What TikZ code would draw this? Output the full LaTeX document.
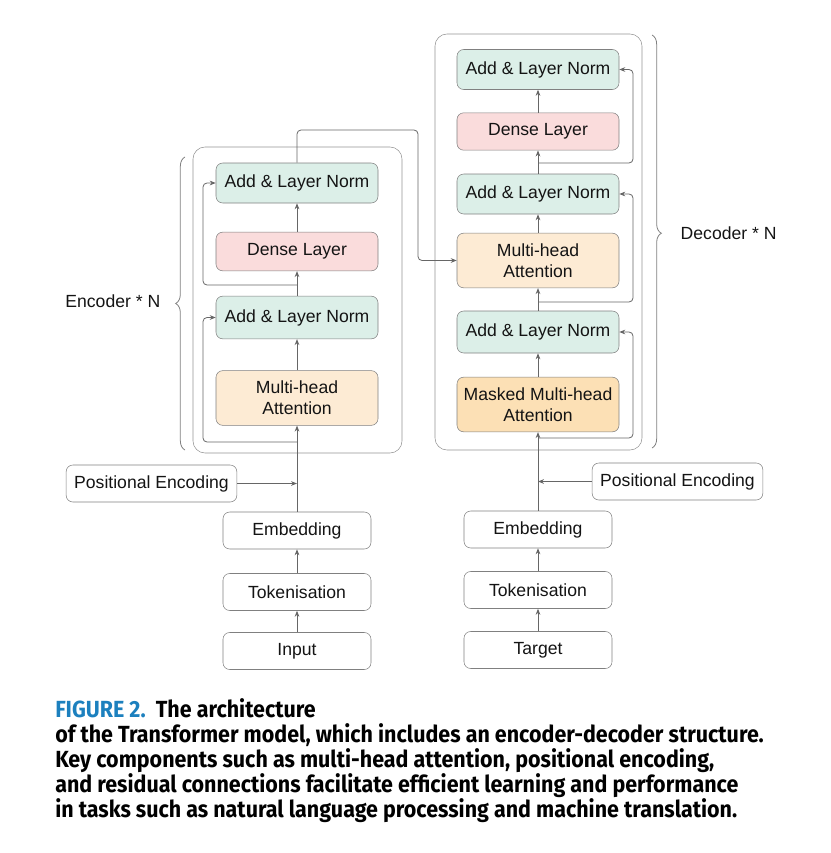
\documentclass[tikz,border=0pt]{standalone}
\usepackage{fontspec}
\setmainfont{Liberation Sans}
\newfontfamily\capfont[FakeStretch=0.92]{Fira Sans}
\usetikzlibrary{arrows.meta, calc}
\usetikzlibrary{positioning, shapes, decorations.pathreplacing}
\definecolor{normfill}{HTML}{DCEFE8}
\definecolor{densefill}{HTML}{FADCDC}
\definecolor{mhafill}{HTML}{FDEBD4}
\definecolor{maskfill}{HTML}{FCE0B5}
\definecolor{boxline}{HTML}{808080}
\definecolor{connline}{HTML}{666666}
\definecolor{figblue}{HTML}{1C80BE}
\newlength\Boxwd
\setlength\Boxwd{121.5pt}
\newlength\Inwd
\setlength\Inwd{111pt}

\begin{document}
\begin{tikzpicture}[x=0.75pt, y=-0.75pt, auto,
every node/.style={font=\fontsize{13.2}{15.8}\selectfont, text=black!92},
layer/.style={
  rectangle, draw=boxline, rounded corners=5pt,
  minimum width=\Boxwd, minimum height=30pt,
  align=center, inner sep=0pt
},
norm/.style={layer, fill=normfill},
dense/.style={layer, fill=densefill, minimum height=29pt},
mha/.style={layer, fill=mhafill, minimum height=41pt},
masked/.style={layer, fill=maskfill, minimum height=41pt},
inbox/.style={layer, fill=white, minimum width=\Inwd, minimum height=27.75pt},
stack/.style={draw=boxline!85, rounded corners=9pt},
conn/.style={draw=connline, line width=0.6pt, rounded corners=3pt,
  -{Stealth[length=4.5pt, width=3.5pt]}},
brc/.style={draw=boxline, line width=0.6pt,
  decorate, decoration={brace, amplitude=7pt}}
]
\useasboundingbox (0,0) rectangle (831,853);

\draw[stack] (193,147) rectangle (402,453);
\draw[stack] (435,34) rectangle (642,450);

\node[norm] (encnormb) at (297,183) {Add \& Layer Norm};
\node[dense] (encdense) at (297,251.5) {Dense Layer};
\node[norm, minimum height=32pt] (encnorma) at (297,317.5) {Add \& Layer Norm};
\node[mha] (encmha) at (297,398) {Multi-head\\Attention};

\node[norm] (decnormc) at (538,69.5) {Add \& Layer Norm};
\node[dense, minimum height=28pt] (decdense) at (538,131.5) {Dense Layer};
\node[norm] (decnormb) at (538,194) {Add \& Layer Norm};
\node[mha] (decmha) at (538,260.5) {Multi-head\\Attention};
\node[norm, minimum height=31.5pt] (decnorma) at (538,332) {Add \& Layer Norm};
\node[masked] (decmask) at (538,404.5) {Masked Multi-head\\Attention};

\node[inbox, minimum width=128pt] (encpos) at (151.5,483.5) {Positional Encoding};
\node[inbox] (encemb) at (297,530.5) {Embedding};
\node[inbox] (enctok) at (297,592) {Tokenisation};
\node[inbox] (encinput) at (297,651) {Input};

\node[inbox, minimum width=128pt] (decpos) at (677.5,481.5) {Positional Encoding};
\node[inbox] (decemb) at (538,529.5) {Embedding};
\node[inbox] (dectok) at (538,590) {Tokenisation};
\node[inbox] (dectarget) at (538,650) {Target};

\coordinate (encjoin) at (297,483.5);
\coordinate (encres1) at (297,442);
\coordinate (encres2) at (297,285);
\coordinate (encout) at (418,130);
\coordinate (decjoin) at (538,481.5);
\coordinate (decres1) at (538,438);
\coordinate (decres2) at (538,302);
\coordinate (decres3) at (538,163);

\draw[conn] (encinput) -- (enctok);
\draw[conn] (enctok) -- (encemb);
\draw[conn] (encemb) -- (encmha);
\draw[conn] (encpos) -- (encjoin);
\draw[conn] (encmha) -- (encnorma);
\draw[conn] (encnorma) -- (encdense);
\draw[conn] (encdense) -- (encnormb);
\draw[conn] (encres1) -- ++(-94,0) |- (encnorma.west);
\draw[conn] (encres2) -- ++(-94,0) |- (encnormb.west);
\draw[conn] (encnormb.north) |- (encout) |- (decmha.west);

\draw[conn] (dectarget) -- (dectok);
\draw[conn] (dectok) -- (decemb);
\draw[conn] (decemb) -- (decmask);
\draw[conn] (decpos) -- (decjoin);
\draw[conn] (decmask) -- (decnorma);
\draw[conn] (decnorma) -- (decmha);
\draw[conn] (decmha) -- (decnormb);
\draw[conn] (decnormb) -- (decdense);
\draw[conn] (decdense) -- (decnormc);
\draw[conn] (decres1) -- ++(95,0) |- (decnorma.east);
\draw[conn] (decres2) -- ++(95,0) |- (decnormb.east);
\draw[conn] (decres3) -- ++(95,0) |- (decnormc.east);

\draw[brc] (185,450) -- (185,157);
\node[anchor=east] (enclabel) at (165,301) {Encoder * N};
\draw[brc, decoration={aspect=0.48}] (652,35) -- (652,448);
\node[anchor=west] (declabel) at (676,233) {Decoder * N};

\node[anchor=north west, align=left, inner sep=0pt,
  font=\capfont\bfseries\fontsize{17.5}{18.8}\selectfont, text=black] (caption) at (55,698)
  {\textcolor{figblue}{FIGURE 2.}\ \ The architecture\\
   of the Transformer model, which includes an encoder-decoder structure.\\
   Key components such as multi-head attention, positional encoding,\\
   and residual connections facilitate efficient learning and performance\\
   in tasks such as natural language processing and machine translation.};
\end{tikzpicture}
\end{document}
